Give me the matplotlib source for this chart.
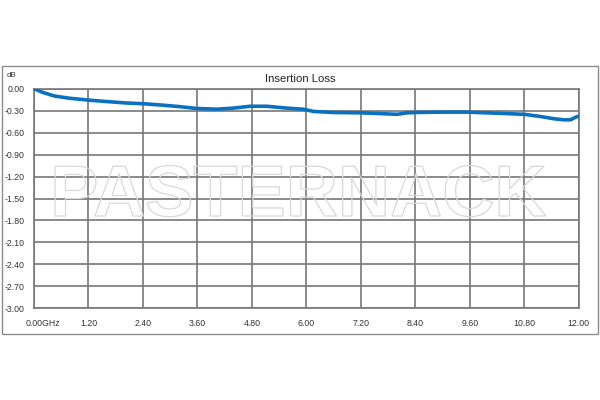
import matplotlib
matplotlib.use("Agg")
import matplotlib.pyplot as plt
import matplotlib.patheffects as pe
from matplotlib.patches import Rectangle
from matplotlib.transforms import ScaledTranslation

# Data (GHz, dB)
freq_ghz = [0.00, 0.19, 0.45, 0.78, 1.19, 1.59, 2.03, 2.40, 2.84, 3.21, 3.58, 4.02,
            4.39, 4.76, 5.13, 5.57, 5.93, 6.08, 6.15, 6.59, 7.20, 7.63, 8.00, 8.22,
            8.41, 8.95, 9.54, 9.98, 10.42, 10.80, 11.16, 11.45, 11.67, 11.82, 11.93, 12.00]
loss_db = [0.00, -0.05, -0.10, -0.13, -0.155, -0.175, -0.195, -0.205, -0.225, -0.245, -0.27, -0.28,
           -0.265, -0.24, -0.24, -0.265, -0.28, -0.30, -0.31, -0.325, -0.33, -0.34, -0.35, -0.33,
           -0.325, -0.32, -0.32, -0.33, -0.34, -0.35, -0.38, -0.41, -0.425, -0.425, -0.39, -0.375]

x_ticks = [0.0, 1.2, 2.4, 3.6, 4.8, 6.0, 7.2, 8.4, 9.6, 10.8, 12.0]
x_labels = ["0.00GHz", "1.20", "2.40", "3.60", "4.80", "6.00", "7.20", "8.40", "9.60", "10.80", "12.00"]
y_ticks = [0.0, -0.3, -0.6, -0.9, -1.2, -1.5, -1.8, -2.1, -2.4, -2.7, -3.0]
y_labels = ["0.00", "-0.30", "-0.60", "-0.90", "-1.20", "-1.50", "-1.80", "-2.10", "-2.40", "-2.70", "-3.00"]

FONT = "Liberation Sans"
fig = plt.figure(figsize=(6, 4), dpi=100)
fig.patch.set_facecolor("white")

# outer chart border
fig.patches.append(Rectangle((2/600, 1-333.5/400), 596/600, (333.5-66)/400,
                             transform=fig.transFigure, fill=False,
                             edgecolor="#8c8c8c", linewidth=1.0))

ax = fig.add_axes([34/600, 1-308.3/400, (578.7-34)/600, (308.3-88.7)/400])
ax.set_xlim(0, 12)
ax.set_ylim(-3.0, 0.0)
ax.set_xticks(x_ticks)
ax.set_xticklabels(x_labels, fontsize=6.3, family=FONT, color="#333333")
ax.set_yticks(y_ticks)
ax.set_yticklabels(y_labels, fontsize=6.3, family=FONT, color="#333333")
ax.tick_params(length=0)
ax.tick_params(axis="y", pad=7)
ax.tick_params(axis="x", pad=8)
ax.grid(True, color="#777777", linewidth=1.2)
for s in ax.spines.values():
    s.set_color("#777777")
    s.set_linewidth(1.2)
ax.set_axisbelow(True)

# shift first x label like the reference
lbl0 = ax.get_xticklabels()[0]
lbl0.set_transform(lbl0.get_transform() + ScaledTranslation(8.5/100, 0, fig.dpi_scale_trans))

ax.plot(freq_ghz, loss_db, color="#0a70c0", linewidth=2.6, solid_capstyle="round", zorder=5)

# title and unit label
fig.text(300.3/600, 1-79.5/400, "Insertion Loss", ha="center", va="center",
         fontsize=8.2, family=FONT, color="#222222")
fig.text(6.5/600, 1-75.5/400, "dB", ha="left", va="center",
         fontsize=5.8, family=FONT, color="#333333")

# watermark (outline only)
wm = fig.text(298.5/600, 1-197/400, "PASTERNACK", ha="center", va="center",
              fontsize=52, family=FONT, fontweight="bold", color="none", zorder=10)
wm.set_path_effects([pe.Stroke(linewidth=0.9, foreground="#d8d8d8")])

fig.savefig("out.png", dpi=100, facecolor="white")
